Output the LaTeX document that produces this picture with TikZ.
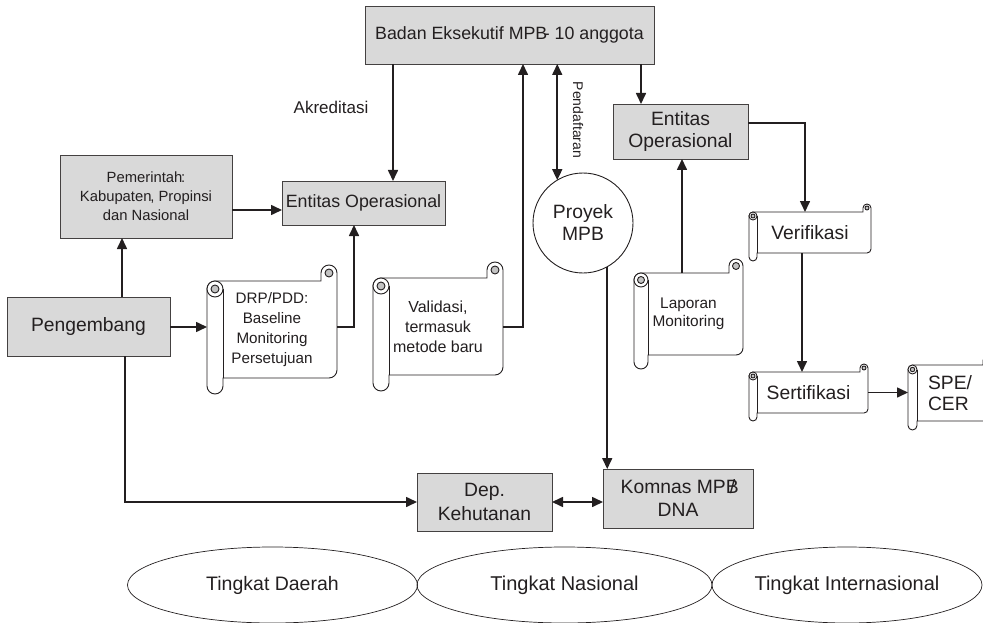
\documentclass[tikz,border=0pt]{standalone}
\usepackage{fontspec}
\setmainfont{Liberation Sans}
\usetikzlibrary{arrows.meta,shapes.geometric}
\definecolor{ink}{RGB}{35,31,32}
\definecolor{boxgray}{RGB}{217,217,217}
\definecolor{rollgray}{RGB}{195,195,195}
\newcommand{\fs}[2]{\fontsize{#1}{#2}\selectfont}
\tikzset{
  graybox/.style={draw=ink!85, line width=0.9pt, fill=boxgray, inner sep=0pt, outer sep=0pt, align=center},
  conn/.style={draw=ink, line width=1.6pt},
  arr/.style={conn, -{Triangle[length=11pt,width=10pt]}},
  darr/.style={conn, {Triangle[length=11pt,width=10pt]}-{Triangle[length=11pt,width=10pt]}},
  scrollline/.style={draw=ink, line width=0.9pt},
  oval/.style={ellipse, draw=ink, line width=0.7pt, inner sep=0pt, outer sep=0pt},
}
% #1 name, #2 x0 (outer left), #3 x1 (right), #4 body top, #5 body bottom, #6 curl size, #7 node options, #8 text
\newcommand{\scrollbox}[8]{%
  \pgfmathsetmacro{\sr}{#6/2}%
  \pgfmathsetmacro{\srh}{#6/4}%
  \pgfmathsetmacro{\sxb}{#2+#6}%
  \pgfmathsetmacro{\sxc}{#3-#6}%
  \pgfmathsetmacro{\sxd}{#3-#6/2}%
  \pgfmathsetmacro{\sxe}{#2+#6/2}%
  \pgfmathsetmacro{\sya}{#4-#6/2}%
  \pgfmathsetmacro{\syb}{#4+#6/2}%
  \pgfmathsetmacro{\syc}{#5-#6/2}%
  \pgfmathsetmacro{\syd}{#5+#6/2}%
  \path[scrollline, fill=white]
    (#2,\syb) arc[start angle=180, end angle=90, radius=\sr pt]
    -- (\sxc,#4) -- (\sxc,\sya)
    arc[start angle=180, end angle=0, radius=\sr pt]
    -- (#3,\syc) arc[start angle=0, end angle=-90, radius=\sr pt]
    -- (\sxb,#5) -- (\sxb,\syd)
    arc[start angle=0, end angle=-180, radius=\sr pt]
    -- cycle;
  \draw[scrollline] (\sxb,\syb) -- (\sxb,#5);
  \draw[scrollline, fill=white] (\sxe,\syb) circle[radius=\sr pt];
  \draw[scrollline, fill=rollgray] (\sxe,\syb) circle[radius=\srh pt];
  \draw[scrollline, fill=rollgray] (\sxd,\sya) circle[radius=\srh pt];
  \node[inner sep=0pt, outer sep=0pt, minimum width={(#3-#2)*1pt}, minimum height={(#5-#4)*1pt}, align=center, text=ink, #7] (#1) at ({(#2+#3)/2},{(#4+#5)/2}) {#8};
}
\begin{document}
\begin{tikzpicture}[x=1pt,y=-1pt]
\useasboundingbox (0,0) rectangle (983,623);
\clip (0,0) rectangle (983,623);

% boxes
\node[graybox, minimum width=289pt, minimum height=58pt, font=\fs{17.8}{21}, text=ink] (badan) at (509.5,35) {Badan Eksekutif MPB\kern-0.2em- 10 anggota};
\node[graybox, minimum width=172pt, minimum height=83pt, font=\fs{14.8}{19}, text=ink] (pem) at (146,196.5) {Pemerintah\kern-0.08em:\\Kabupaten\kern-0.08em, Propinsi\\dan Nasional};
\node[graybox, minimum width=163pt, minimum height=44pt, font=\fs{17.8}{21}, text=ink] (eoL) at (363.5,203) {Entitas Operasional};
\node[graybox, minimum width=163pt, minimum height=59pt, font=\fs{19.3}{22}, text=ink] (peng) at (88.5,326.5) {Pengembang};
\node[graybox, minimum width=135pt, minimum height=55pt, font=\fs{19.3}{22}, text=ink] (eoR) at (680.5,131.5) {Entitas\\Operasional};
\node[graybox, minimum width=135pt, minimum height=58pt, font=\fs{19.3}{24}, text=ink] (dep) at (484.5,502) {Dep.\\Kehutanan};
\node[graybox, minimum width=150pt, minimum height=59pt, font=\fs{19.3}{23}, text=ink] (komnas) at (678,498.5) {Komnas MPB\kern-0.45em/\\DNA};
\node[circle, draw=ink, line width=0.9pt, minimum size=100pt, inner sep=0pt, outer sep=0pt, align=center, font=\fs{19.3}{22}, text=ink] (proyek) at (583,223) {Proyek\\MPB};

% labels
\node[font=\fs{17}{20}, text=ink] (akr) at (331,107) {Akreditasi};
\node[font=\fs{14}{17}, text=ink, rotate=-90] (pend) at (578,120) {Pendaftaran};

% scrolls
\scrollbox{drp}{207}{337}{281}{378}{16}{font=\fs{15.2}{20}}{DRP/PDD:\\Baseline\\Monitoring\\Persetujuan}
\scrollbox{val}{373}{503}{278}{375}{16}{font=\fs{16}{20}}{Validasi,\\termasuk\\metode baru}
\scrollbox{lap}{634}{743}{273}{355}{14}{font=\fs{15.4}{18}}{Laporan\\Monitoring}
\scrollbox{ver}{749}{871}{212}{253}{8}{font=\fs{19.3}{22}}{Verifikasi}
\scrollbox{sert}{749}{868}{372}{413}{8}{font=\fs{19.3}{22}}{Sertifikasi}
\scrollbox{spe}{908}{992}{365}{421}{9}{font=\fs{19.3}{21}, align=left}{SPE/\\CER}

% ellipses
\node[oval, minimum width=290pt, minimum height=76pt, font=\fs{19.5}{23}, text=ink] (td) at (272.5,585) {Tingkat Daerah};
\node[oval, minimum width=295pt, minimum height=76pt, font=\fs{20}{23}, text=ink] (tn) at (564.5,585) {Tingkat Nasional};
\node[oval, minimum width=270pt, minimum height=76pt, font=\fs{20}{23}, text=ink] (ti) at (847,585) {Tingkat Internasional};

% helper coordinates for connector positions
\coordinate (xAkr) at (393,0);
\coordinate (xVal) at (523,0);
\coordinate (xEoR) at (641,0);
\coordinate (xLap) at (682,0);
\coordinate (xPem) at (122,0);
\coordinate (xDep) at (125,0);
\coordinate (xDrp) at (354,0);
\coordinate (xVer) at (805,0);
\coordinate (xVS) at (802,0);
\coordinate (yPem) at (0,210);
\coordinate (yEoR) at (0,123);
\coordinate (yDep) at (0,502);
\coordinate (yDrp) at (0,327);

% connectors
\draw[arr] (badan.south -| xAkr) -- (eoL.north -| xAkr);
\draw[arr] (pem.east |- yPem) -- (eoL.west |- yPem);
\draw[arr] (peng.north -| xPem) -- (pem.south -| xPem);
\draw[arr] (peng.east |- yDrp) -- (drp.west |- yDrp);
\draw[arr] (drp.east |- yDrp) -| (eoL.south -| xDrp);
\draw[arr] (val.east |- yDrp) -| (badan.south -| xVal);
\draw[darr] (proyek.121) -- (badan.south -| proyek.121);
\draw[arr] (badan.south -| xEoR) -- (eoR.north -| xEoR);
\draw[arr] (lap.north -| xLap) -- (eoR.south -| xLap);
\draw[arr] (eoR.east |- yEoR) -| (ver.north -| xVer);
\draw[arr] (ver.south -| xVS) -- (sert.north -| xVS);
\draw[arr] (sert.east) -- (sert.east -| spe.west);
\draw[arr] (proyek.-61) -- (komnas.north -| proyek.-61);
\draw[arr] (peng.south -| xDep) |- (dep.west |- yDep);
\draw[darr] (dep.east |- yDep) -- (komnas.west |- yDep);
\end{tikzpicture}
\end{document}
